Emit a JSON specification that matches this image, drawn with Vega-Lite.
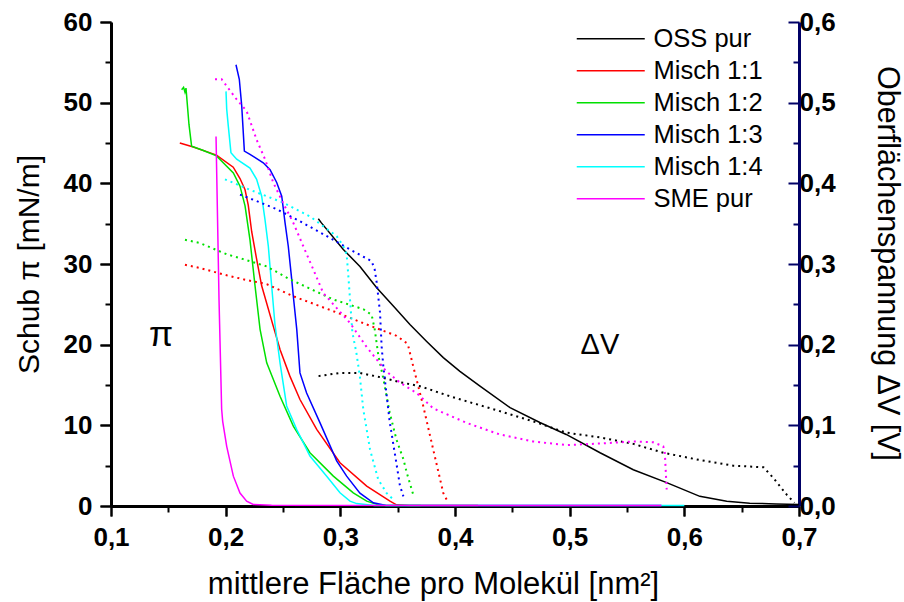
{
  "$schema": "https://vega.github.io/schema/vega-lite/v6.json",
  "width": 688,
  "height": 484,
  "autosize": {"type": "none"},
  "padding": {"left": 111, "top": 22, "right": 105, "bottom": 96},
  "background": "white",
  "config": {
    "view": {"stroke": null},
    "font": "Liberation Sans",
    "axis": {"grid": false, "ticks": true, "tickColor": "black", "tickWidth": 2, "domainColor": "black", "domainWidth": 3, "labelFlush": false, "labelOverlap": false, "labelColor": "black", "titleColor": "black", "labelFont": "Liberation Sans", "labelFontSize": 26, "labelFontWeight": "bold", "titleFont": "Liberation Sans", "titleFontWeight": "normal"},
    "axisBottom": {"tickSize": 10, "labelPadding": 8},
    "axisLeft": {"tickSize": 11, "labelPadding": 8}
  },
  "datasets": {
    "pi": [
      {"s": "OSS pur", "x": 0.2808, "pi": 35.6}, {"s": "OSS pur", "x": 0.2835, "pi": 35.1}, {"s": "OSS pur", "x": 0.3026, "pi": 31.8}, {"s": "OSS pur", "x": 0.3171, "pi": 29.7}, {"s": "OSS pur", "x": 0.3317, "pi": 27.05}, {"s": "OSS pur", "x": 0.3462, "pi": 24.8}, {"s": "OSS pur", "x": 0.3607, "pi": 22.5}, {"s": "OSS pur", "x": 0.3753, "pi": 20.4}, {"s": "OSS pur", "x": 0.3898, "pi": 18.4}, {"s": "OSS pur", "x": 0.4043, "pi": 16.7}, {"s": "OSS pur", "x": 0.4218, "pi": 14.85}, {"s": "OSS pur", "x": 0.448, "pi": 12.2}, {"s": "OSS pur", "x": 0.474, "pi": 10.35}, {"s": "OSS pur", "x": 0.497, "pi": 8.87}, {"s": "OSS pur", "x": 0.5265, "pi": 6.6}, {"s": "OSS pur", "x": 0.5555, "pi": 4.5}, {"s": "OSS pur", "x": 0.5846, "pi": 2.9}, {"s": "OSS pur", "x": 0.6135, "pi": 1.2}, {"s": "OSS pur", "x": 0.637, "pi": 0.6}, {"s": "OSS pur", "x": 0.657, "pi": 0.35}, {"s": "OSS pur", "x": 0.68, "pi": 0.25}, {"s": "OSS pur", "x": 0.7, "pi": 0.2},
      {"s": "Misch 1:1", "x": 0.16, "pi": 45.0}, {"s": "Misch 1:1", "x": 0.1718, "pi": 44.5}, {"s": "Misch 1:1", "x": 0.192, "pi": 43.5}, {"s": "Misch 1:1", "x": 0.2066, "pi": 42.0}, {"s": "Misch 1:1", "x": 0.2125, "pi": 40.6}, {"s": "Misch 1:1", "x": 0.2169, "pi": 39.2}, {"s": "Misch 1:1", "x": 0.2197, "pi": 37.3}, {"s": "Misch 1:1", "x": 0.2227, "pi": 34.0}, {"s": "Misch 1:1", "x": 0.227, "pi": 30.6}, {"s": "Misch 1:1", "x": 0.2314, "pi": 27.3}, {"s": "Misch 1:1", "x": 0.2415, "pi": 22.3}, {"s": "Misch 1:1", "x": 0.2474, "pi": 19.4}, {"s": "Misch 1:1", "x": 0.256, "pi": 16.1}, {"s": "Misch 1:1", "x": 0.2648, "pi": 13.2}, {"s": "Misch 1:1", "x": 0.2794, "pi": 9.5}, {"s": "Misch 1:1", "x": 0.2997, "pi": 5.36}, {"s": "Misch 1:1", "x": 0.323, "pi": 2.46}, {"s": "Misch 1:1", "x": 0.3433, "pi": 0.6}, {"s": "Misch 1:1", "x": 0.349, "pi": 0.15}, {"s": "Misch 1:1", "x": 0.36, "pi": 0.05}, {"s": "Misch 1:1", "x": 0.42, "pi": 0.05},
      {"s": "Misch 1:2", "x": 0.1616, "pi": 51.6}, {"s": "Misch 1:2", "x": 0.1633, "pi": 51.9}, {"s": "Misch 1:2", "x": 0.1645, "pi": 51.3}, {"s": "Misch 1:2", "x": 0.1654, "pi": 51.8}, {"s": "Misch 1:2", "x": 0.168, "pi": 47.3}, {"s": "Misch 1:2", "x": 0.1703, "pi": 44.6}, {"s": "Misch 1:2", "x": 0.18, "pi": 44.1}, {"s": "Misch 1:2", "x": 0.192, "pi": 43.4}, {"s": "Misch 1:2", "x": 0.2067, "pi": 41.3}, {"s": "Misch 1:2", "x": 0.2125, "pi": 39.65}, {"s": "Misch 1:2", "x": 0.2169, "pi": 37.2}, {"s": "Misch 1:2", "x": 0.2212, "pi": 33.0}, {"s": "Misch 1:2", "x": 0.2256, "pi": 27.3}, {"s": "Misch 1:2", "x": 0.23, "pi": 21.9}, {"s": "Misch 1:2", "x": 0.2358, "pi": 17.75}, {"s": "Misch 1:2", "x": 0.2474, "pi": 13.6}, {"s": "Misch 1:2", "x": 0.259, "pi": 9.9}, {"s": "Misch 1:2", "x": 0.2735, "pi": 6.6}, {"s": "Misch 1:2", "x": 0.2939, "pi": 3.7}, {"s": "Misch 1:2", "x": 0.3113, "pi": 1.64}, {"s": "Misch 1:2", "x": 0.323, "pi": 0.6}, {"s": "Misch 1:2", "x": 0.3317, "pi": 0.2}, {"s": "Misch 1:2", "x": 0.34, "pi": 0.05}, {"s": "Misch 1:2", "x": 0.37, "pi": 0.05},
      {"s": "Misch 1:3", "x": 0.209, "pi": 54.7}, {"s": "Misch 1:3", "x": 0.2119, "pi": 52.9}, {"s": "Misch 1:3", "x": 0.214, "pi": 49.6}, {"s": "Misch 1:3", "x": 0.2163, "pi": 44.0}, {"s": "Misch 1:3", "x": 0.2212, "pi": 43.6}, {"s": "Misch 1:3", "x": 0.2328, "pi": 42.55}, {"s": "Misch 1:3", "x": 0.2387, "pi": 41.7}, {"s": "Misch 1:3", "x": 0.2445, "pi": 40.1}, {"s": "Misch 1:3", "x": 0.2489, "pi": 38.4}, {"s": "Misch 1:3", "x": 0.2518, "pi": 35.1}, {"s": "Misch 1:3", "x": 0.2546, "pi": 32.2}, {"s": "Misch 1:3", "x": 0.2576, "pi": 28.1}, {"s": "Misch 1:3", "x": 0.259, "pi": 26.0}, {"s": "Misch 1:3", "x": 0.262, "pi": 21.9}, {"s": "Misch 1:3", "x": 0.2648, "pi": 16.5}, {"s": "Misch 1:3", "x": 0.2706, "pi": 14.0}, {"s": "Misch 1:3", "x": 0.2823, "pi": 10.3}, {"s": "Misch 1:3", "x": 0.2968, "pi": 5.6}, {"s": "Misch 1:3", "x": 0.3055, "pi": 3.7}, {"s": "Misch 1:3", "x": 0.3171, "pi": 1.6}, {"s": "Misch 1:3", "x": 0.3288, "pi": 0.4}, {"s": "Misch 1:3", "x": 0.34, "pi": 0.05}, {"s": "Misch 1:3", "x": 0.58, "pi": 0.05},
      {"s": "Misch 1:4", "x": 0.2003, "pi": 51.4}, {"s": "Misch 1:4", "x": 0.2009, "pi": 49.2}, {"s": "Misch 1:4", "x": 0.2023, "pi": 47.1}, {"s": "Misch 1:4", "x": 0.2046, "pi": 43.8}, {"s": "Misch 1:4", "x": 0.2096, "pi": 43.0}, {"s": "Misch 1:4", "x": 0.2212, "pi": 41.9}, {"s": "Misch 1:4", "x": 0.227, "pi": 40.5}, {"s": "Misch 1:4", "x": 0.2314, "pi": 38.4}, {"s": "Misch 1:4", "x": 0.2343, "pi": 35.5}, {"s": "Misch 1:4", "x": 0.2372, "pi": 32.2}, {"s": "Misch 1:4", "x": 0.2401, "pi": 27.3}, {"s": "Misch 1:4", "x": 0.243, "pi": 22.5}, {"s": "Misch 1:4", "x": 0.2474, "pi": 17.75}, {"s": "Misch 1:4", "x": 0.2532, "pi": 12.4}, {"s": "Misch 1:4", "x": 0.2619, "pi": 9.5}, {"s": "Misch 1:4", "x": 0.2735, "pi": 6.2}, {"s": "Misch 1:4", "x": 0.2881, "pi": 3.7}, {"s": "Misch 1:4", "x": 0.2997, "pi": 1.64}, {"s": "Misch 1:4", "x": 0.3084, "pi": 0.6}, {"s": "Misch 1:4", "x": 0.3142, "pi": 0.3}, {"s": "Misch 1:4", "x": 0.33, "pi": 0.05}, {"s": "Misch 1:4", "x": 0.6, "pi": 0.05},
      {"s": "SME pur", "x": 0.1916, "pi": 45.8}, {"s": "SME pur", "x": 0.1942, "pi": 25.6}, {"s": "SME pur", "x": 0.1965, "pi": 12.0}, {"s": "SME pur", "x": 0.1974, "pi": 10.5}, {"s": "SME pur", "x": 0.2009, "pi": 7.4}, {"s": "SME pur", "x": 0.2067, "pi": 3.7}, {"s": "SME pur", "x": 0.2125, "pi": 1.6}, {"s": "SME pur", "x": 0.2183, "pi": 0.6}, {"s": "SME pur", "x": 0.224, "pi": 0.2}, {"s": "SME pur", "x": 0.24, "pi": 0.1}, {"s": "SME pur", "x": 0.58, "pi": 0.05}
    ],
    "dv": [
      {"s": "OSS pur", "x": 0.281, "dv": 0.161}, {"s": "OSS pur", "x": 0.2997, "dv": 0.165}, {"s": "OSS pur", "x": 0.317, "dv": 0.165}, {"s": "OSS pur", "x": 0.337, "dv": 0.159}, {"s": "OSS pur", "x": 0.352, "dv": 0.1535}, {"s": "OSS pur", "x": 0.3695, "dv": 0.1485}, {"s": "OSS pur", "x": 0.3956, "dv": 0.136}, {"s": "OSS pur", "x": 0.439, "dv": 0.1176}, {"s": "OSS pur", "x": 0.468, "dv": 0.105}, {"s": "OSS pur", "x": 0.497, "dv": 0.091}, {"s": "OSS pur", "x": 0.5265, "dv": 0.085}, {"s": "OSS pur", "x": 0.5555, "dv": 0.077}, {"s": "OSS pur", "x": 0.5817, "dv": 0.066}, {"s": "OSS pur", "x": 0.6135, "dv": 0.057}, {"s": "OSS pur", "x": 0.6426, "dv": 0.05}, {"s": "OSS pur", "x": 0.669, "dv": 0.048}, {"s": "OSS pur", "x": 0.6775, "dv": 0.035}, {"s": "OSS pur", "x": 0.6893, "dv": 0.014}, {"s": "OSS pur", "x": 0.696, "dv": 0.004},
      {"s": "Misch 1:1", "x": 0.1645, "dv": 0.299}, {"s": "Misch 1:1", "x": 0.1776, "dv": 0.295}, {"s": "Misch 1:1", "x": 0.2009, "dv": 0.286}, {"s": "Misch 1:1", "x": 0.2154, "dv": 0.281}, {"s": "Misch 1:1", "x": 0.2358, "dv": 0.275}, {"s": "Misch 1:1", "x": 0.259, "dv": 0.26}, {"s": "Misch 1:1", "x": 0.2939, "dv": 0.2415}, {"s": "Misch 1:1", "x": 0.323, "dv": 0.225}, {"s": "Misch 1:1", "x": 0.349, "dv": 0.211}, {"s": "Misch 1:1", "x": 0.3578, "dv": 0.202}, {"s": "Misch 1:1", "x": 0.3593, "dv": 0.198}, {"s": "Misch 1:1", "x": 0.3636, "dv": 0.173}, {"s": "Misch 1:1", "x": 0.3723, "dv": 0.124}, {"s": "Misch 1:1", "x": 0.381, "dv": 0.07}, {"s": "Misch 1:1", "x": 0.3898, "dv": 0.016}, {"s": "Misch 1:1", "x": 0.3927, "dv": 0.008},
      {"s": "Misch 1:2", "x": 0.1645, "dv": 0.33}, {"s": "Misch 1:2", "x": 0.1776, "dv": 0.326}, {"s": "Misch 1:2", "x": 0.201, "dv": 0.312}, {"s": "Misch 1:2", "x": 0.2154, "dv": 0.306}, {"s": "Misch 1:2", "x": 0.2358, "dv": 0.297}, {"s": "Misch 1:2", "x": 0.256, "dv": 0.281}, {"s": "Misch 1:2", "x": 0.2939, "dv": 0.256}, {"s": "Misch 1:2", "x": 0.32, "dv": 0.244}, {"s": "Misch 1:2", "x": 0.3273, "dv": 0.237}, {"s": "Misch 1:2", "x": 0.33, "dv": 0.219}, {"s": "Misch 1:2", "x": 0.3332, "dv": 0.186}, {"s": "Misch 1:2", "x": 0.3375, "dv": 0.158}, {"s": "Misch 1:2", "x": 0.343, "dv": 0.116}, {"s": "Misch 1:2", "x": 0.349, "dv": 0.082}, {"s": "Misch 1:2", "x": 0.355, "dv": 0.058}, {"s": "Misch 1:2", "x": 0.358, "dv": 0.041}, {"s": "Misch 1:2", "x": 0.3636, "dv": 0.014},
      {"s": "Misch 1:3", "x": 0.2125, "dv": 0.386}, {"s": "Misch 1:3", "x": 0.227, "dv": 0.378}, {"s": "Misch 1:3", "x": 0.2445, "dv": 0.368}, {"s": "Misch 1:3", "x": 0.2648, "dv": 0.353}, {"s": "Misch 1:3", "x": 0.2851, "dv": 0.337}, {"s": "Misch 1:3", "x": 0.3084, "dv": 0.318}, {"s": "Misch 1:3", "x": 0.3273, "dv": 0.3035}, {"s": "Misch 1:3", "x": 0.33, "dv": 0.293}, {"s": "Misch 1:3", "x": 0.3317, "dv": 0.277}, {"s": "Misch 1:3", "x": 0.3346, "dv": 0.24}, {"s": "Misch 1:3", "x": 0.336, "dv": 0.198}, {"s": "Misch 1:3", "x": 0.3375, "dv": 0.173}, {"s": "Misch 1:3", "x": 0.343, "dv": 0.105}, {"s": "Misch 1:3", "x": 0.349, "dv": 0.052}, {"s": "Misch 1:3", "x": 0.352, "dv": 0.025}, {"s": "Misch 1:3", "x": 0.355, "dv": 0.012},
      {"s": "Misch 1:4", "x": 0.1994, "dv": 0.405}, {"s": "Misch 1:4", "x": 0.2212, "dv": 0.392}, {"s": "Misch 1:4", "x": 0.2503, "dv": 0.376}, {"s": "Misch 1:4", "x": 0.2735, "dv": 0.359}, {"s": "Misch 1:4", "x": 0.2968, "dv": 0.3345}, {"s": "Misch 1:4", "x": 0.3026, "dv": 0.322}, {"s": "Misch 1:4", "x": 0.3055, "dv": 0.312}, {"s": "Misch 1:4", "x": 0.307, "dv": 0.285}, {"s": "Misch 1:4", "x": 0.309, "dv": 0.245}, {"s": "Misch 1:4", "x": 0.3105, "dv": 0.215}, {"s": "Misch 1:4", "x": 0.314, "dv": 0.19}, {"s": "Misch 1:4", "x": 0.317, "dv": 0.161}, {"s": "Misch 1:4", "x": 0.32, "dv": 0.12}, {"s": "Misch 1:4", "x": 0.3259, "dv": 0.07}, {"s": "Misch 1:4", "x": 0.333, "dv": 0.033}, {"s": "Misch 1:4", "x": 0.3404, "dv": 0.016}, {"s": "Misch 1:4", "x": 0.3462, "dv": 0.008},
      {"s": "SME pur", "x": 0.1907, "dv": 0.529}, {"s": "SME pur", "x": 0.1965, "dv": 0.529}, {"s": "SME pur", "x": 0.2009, "dv": 0.5205}, {"s": "SME pur", "x": 0.2096, "dv": 0.504}, {"s": "SME pur", "x": 0.2183, "dv": 0.4895}, {"s": "SME pur", "x": 0.227, "dv": 0.454}, {"s": "SME pur", "x": 0.2343, "dv": 0.43}, {"s": "SME pur", "x": 0.2415, "dv": 0.401}, {"s": "SME pur", "x": 0.2503, "dv": 0.375}, {"s": "SME pur", "x": 0.259, "dv": 0.351}, {"s": "SME pur", "x": 0.2677, "dv": 0.322}, {"s": "SME pur", "x": 0.2765, "dv": 0.293}, {"s": "SME pur", "x": 0.2851, "dv": 0.264}, {"s": "SME pur", "x": 0.2939, "dv": 0.25}, {"s": "SME pur", "x": 0.3084, "dv": 0.227}, {"s": "SME pur", "x": 0.323, "dv": 0.197}, {"s": "SME pur", "x": 0.34, "dv": 0.167}, {"s": "SME pur", "x": 0.352, "dv": 0.153}, {"s": "SME pur", "x": 0.3666, "dv": 0.14}, {"s": "SME pur", "x": 0.381, "dv": 0.121}, {"s": "SME pur", "x": 0.4102, "dv": 0.103}, {"s": "SME pur", "x": 0.439, "dv": 0.0887}, {"s": "SME pur", "x": 0.468, "dv": 0.08}, {"s": "SME pur", "x": 0.4975, "dv": 0.0755}, {"s": "SME pur", "x": 0.5265, "dv": 0.0775}, {"s": "SME pur", "x": 0.5555, "dv": 0.08}, {"s": "SME pur", "x": 0.5729, "dv": 0.079}, {"s": "SME pur", "x": 0.5816, "dv": 0.074}, {"s": "SME pur", "x": 0.583, "dv": 0.066}, {"s": "SME pur", "x": 0.5846, "dv": 0.0205}
    ],
    "notes": [
      {"x": 0.1436, "pi": 19.8, "dv": 0.198, "t": "π", "f": "Liberation Serif", "fs": 35},
      {"x": 0.5264, "pi": 18.8, "dv": 0.188, "t": "ΔV", "f": "Liberation Sans", "fs": 29}
    ]
  },
  "layer": [
    {
      "data": {"name": "pi"},
      "mark": {"type": "line", "strokeWidth": 1.5},
      "encoding": {
        "x": {
          "field": "x", "type": "quantitative",
          "scale": {"domain": [0.1, 0.7]},
          "axis": {
            "orient": "bottom",
            "values": [0.1, 0.2, 0.3, 0.4, 0.5, 0.6, 0.7],
            "labelExpr": "replace(format(datum.value, '.1f'), '.', ',')",
            "title": "mittlere Fläche pro Molekül [nm²]",
            "titleFontSize": 31,
            "titleX": 322, "titleY": 87, "titleAlign": "center", "titleBaseline": "alphabetic"
          }
        },
        "y": {
          "field": "pi", "type": "quantitative",
          "scale": {"domain": [0, 60]},
          "axis": {
            "orient": "left",
            "values": [0, 10, 20, 30, 40, 50, 60],
            "title": "Schub π [mN/m]",
            "titleFontSize": 30,
            "titleX": -73, "titleY": 242, "titleAngle": -90, "titleAlign": "center", "titleBaseline": "alphabetic"
          }
        },
        "color": {
          "field": "s", "type": "nominal",
          "scale": {
            "domain": ["OSS pur", "Misch 1:1", "Misch 1:2", "Misch 1:3", "Misch 1:4", "SME pur"],
            "range": ["#000000", "#ff0000", "#00e000", "#0000ff", "#00ffff", "#ff00ff"]
          },
          "legend": {
            "title": null, "orient": "none", "legendX": 487, "legendY": 4, "padding": 0,
            "symbolType": "M-3.4,0H3.4", "symbolSize": 400, "symbolStrokeWidth": 1.5,
            "labelFont": "Liberation Sans", "labelFontSize": 25.5, "labelColor": "black",
            "labelOffset": 30, "rowPadding": 5, "labelLimit": 300
          }
        }
      }
    },
    {
      "data": {"name": "dv"},
      "mark": {"type": "line", "strokeWidth": 2, "strokeDash": [2, 4]},
      "encoding": {
        "x": {"field": "x", "type": "quantitative", "scale": {"domain": [0.1, 0.7]}, "axis": null},
        "y": {
          "field": "dv", "type": "quantitative",
          "scale": {"domain": [0, 0.6]},
          "axis": {
            "orient": "right",
            "values": [0, 0.1, 0.2, 0.3, 0.4, 0.5, 0.6],
            "labelExpr": "replace(format(datum.value, '.1f'), '.', ',')",
            "title": "Oberflächenspannung ΔV [V]",
            "titleFontSize": 30.5,
            "titleX": 78, "titleY": 241, "titleAngle": 90, "titleAlign": "center", "titleBaseline": "alphabetic",
            "labelPadding": 11,
            "domainColor": "#000066",
            "tickColor": "#000066", "tickSize": -11
          }
        },
        "color": {"field": "s", "type": "nominal"}
      }
    },
    {
      "data": {"name": "notes"},
      "mark": {"type": "text", "baseline": "alphabetic", "align": "center", "color": "black"},
      "encoding": {
        "x": {
          "field": "x", "type": "quantitative", "scale": {"domain": [0.1, 0.7]},
          "axis": {"orient": "bottom", "values": [0.1, 0.2, 0.3, 0.4, 0.5, 0.6, 0.7], "offset": 10, "tickSize": -10, "domain": false, "labels": false, "title": null}
        },
        "y": {
          "field": "pi", "type": "quantitative", "scale": {"domain": [0, 60]},
          "axis": {"orient": "left", "values": [0, 10, 20, 30, 40, 50, 60], "offset": 11, "tickSize": -11, "domain": false, "labels": false, "title": null}
        },
        "text": {"field": "t"},
        "font": {"field": "f"},
        "size": {"field": "fs", "type": "quantitative", "scale": null}
      }
    },
    {
      "data": {"name": "notes"},
      "mark": {"type": "point", "opacity": 0},
      "encoding": {
        "x": {
          "field": "x", "type": "quantitative", "scale": {"domain": [0.1, 0.7]},
          "axis": {"orient": "bottom", "values": [0.15, 0.25, 0.35, 0.45, 0.55, 0.65], "offset": 6, "tickSize": -6, "domain": false, "labels": false, "title": null}
        },
        "y": {
          "field": "pi", "type": "quantitative", "scale": {"domain": [0, 60]},
          "axis": {"orient": "left", "values": [5, 15, 25, 35, 45, 55], "offset": 6, "tickSize": -6, "domain": false, "labels": false, "title": null}
        }
      }
    },
    {
      "data": {"name": "notes"},
      "mark": {"type": "point", "opacity": 0},
      "encoding": {
        "x": {"field": "x", "type": "quantitative", "scale": {"domain": [0.1, 0.7]}, "axis": null},
        "y": {
          "field": "dv", "type": "quantitative", "scale": {"domain": [0, 0.6]},
          "axis": {"orient": "right", "values": [0.05, 0.15, 0.25, 0.35, 0.45, 0.55], "tickSize": -6, "tickColor": "#000066", "domain": false, "labels": false, "title": null}
        }
      }
    }
  ],
  "resolve": {"scale": {"x": "independent", "y": "independent"}}
}
